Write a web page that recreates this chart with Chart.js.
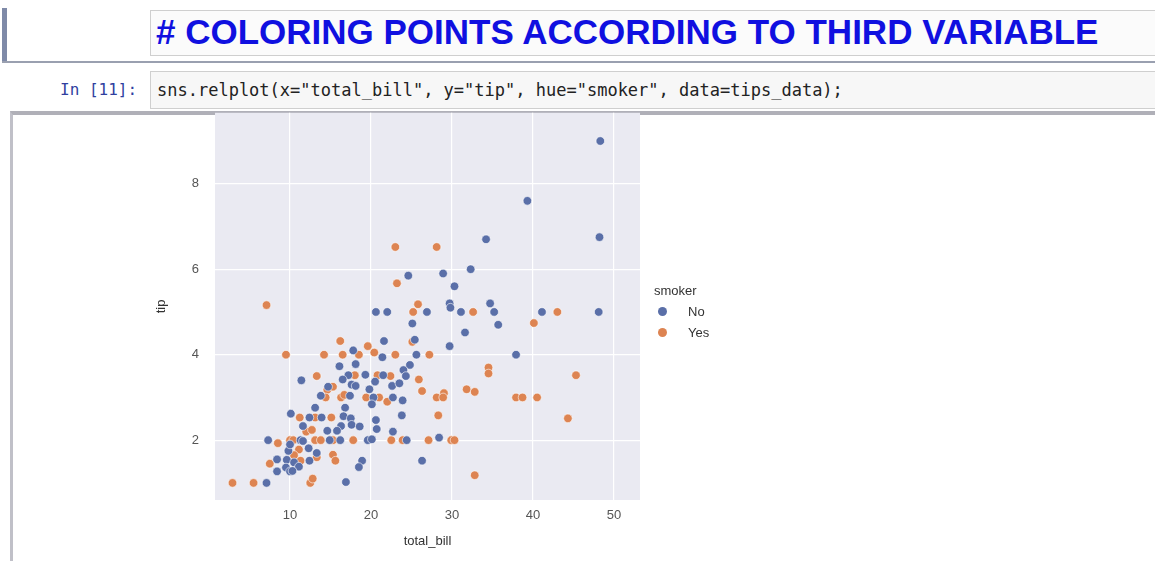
<!DOCTYPE html>
<html><head><meta charset="utf-8">
<script src="https://cdn.jsdelivr.net/npm/chart.js@4"></script>
<style>
body{margin:0;width:1155px;height:561px;background:#fff;position:relative;overflow:hidden;font-family:"Liberation Sans",Arial,sans-serif}
#lbar{position:absolute;left:2px;top:8px;width:5px;height:54px;background:#7f8aa8}
#lline{position:absolute;left:2px;top:61px;width:1153px;height:2px;background:#9aa0b0}
#md{position:absolute;left:150px;top:10px;width:1010px;height:44px;border:1px solid #cfcfcf;background:#fbfbfb}
#md h1{margin:0;position:absolute;left:5px;top:1px;font:bold 35px "Liberation Sans",Arial,sans-serif;color:#1010e0}
#prompt{position:absolute;left:60px;top:80px;font:16px "DejaVu Sans Mono",monospace;color:#303f9f}
#code{position:absolute;left:150px;top:71px;width:1010px;height:36px;border:1px solid #cfcfcf;background:#f7f7f7}
#code span{position:absolute;left:6px;top:8px;font:17px "DejaVu Sans Mono",monospace;color:#222;white-space:pre}
.s{color:#ba2121}.o{color:#aa22ff}
#out{position:absolute;left:10px;top:111px;width:1145px;height:450px;border-top:4px solid #b0b0b8;border-left:3px solid #c0c0c8}
#cv{position:absolute;left:150px;top:89px}
#leg{position:absolute;left:654px;top:283px;font:13px "Liberation Sans",Arial,sans-serif;color:#333}
#leg div{height:21px;position:relative}
.dot{position:absolute;left:4px;top:3px;width:9px;height:9px;border-radius:50%}
</style></head><body>
<div id="lbar"></div><div id="lline"></div>
<div id="md"><h1># COLORING POINTS ACCORDING TO THIRD VARIABLE</h1></div>
<div id="prompt">In [11]:</div>
<div id="code"><span>sns.relplot(x=<span class="s" style="position:static">"total_bill"</span>, y=<span class="s" style="position:static">"tip"</span>, hue=<span class="s" style="position:static">"smoker"</span>, data<span class="o" style="position:static">=</span>tips_data);</span></div>
<div id="out"></div>
<canvas id="cv" width="570" height="464" style="width:570px;height:464px"></canvas>
<div id="leg"><div>smoker</div><div><span class="dot" style="background:#5a6fa8"></span><span style="position:absolute;left:34px">No</span></div><div><span class="dot" style="background:#dd8452"></span><span style="position:absolute;left:34px">Yes</span></div></div>
<script>
const noX=[48.3,39.3,48.2,34.2,32.3,28.9,24.6,30.3,29.7,29.8,34.7,35.2,31.1,26.9,41.1,48.1,20.6,22.0,25.1,35.7,31.6,21.6,25.4,29.7,37.9,25.6,21.4,17.8,18.1,16.1,24.8,24.0,24.3,19.3,17.2,16.5,21.5,20.5,11.4,14.7,17.6,18.1,19.8,22.6,23.5,13.8,20.3,22.7,23.9,17.4,20.1,13.1,16.8,10.1,12.4,13.9,16.6,17.5,23.8,20.6,11.6,16.3,17.6,18.6,20.7,14.6,15.8,22.7,7.3,11.3,14.9,16.2,19.6,20.1,24.4,28.4,12.3,9.8,13.3,8.4,9.6,10.5,12.4,18.9,26.3,11.1,9.5,18.5,8.4,10.0,10.3,7.1,16.9,10.0,11.6];
const noY=[9.0,7.6,6.75,6.7,6.0,5.9,5.85,5.6,5.2,5.1,5.2,5.0,5.0,5.0,5.0,5.0,5.0,5.0,4.73,4.7,4.52,4.32,4.35,4.2,4.0,4.0,3.94,4.1,3.78,3.73,3.76,3.64,3.5,3.53,3.52,3.42,3.52,3.37,3.4,3.25,3.3,3.27,3.19,3.27,3.33,3.04,3.0,3.0,2.93,3.04,2.84,2.76,2.76,2.62,2.53,2.53,2.56,2.51,2.58,2.47,2.33,2.33,2.36,2.32,2.26,2.22,2.22,2.2,2.0,2.0,2.0,2.0,2.0,2.02,2.0,2.06,1.81,1.75,1.7,1.55,1.54,1.48,1.52,1.52,1.52,1.38,1.36,1.37,1.27,1.27,1.28,1.0,1.02,1.9,1.98];
const yesX=[23.0,28.1,23.2,7.1,25.8,25.2,32.6,43.0,40.1,16.2,19.6,9.5,14.2,16.5,18.5,20.4,23.0,27.2,25.1,34.5,34.5,45.3,13.3,18.0,20.8,22.4,25.9,14.6,15.3,26.3,31.8,32.8,29.0,14.4,16.3,16.7,19.4,21.0,28.1,28.9,37.9,38.7,40.5,22.0,28.3,44.3,11.2,13.1,15.1,12.0,12.7,8.5,10.0,10.4,13.1,13.8,15.3,17.8,22.5,23.9,27.1,29.9,30.3,11.1,10.5,15.3,15.6,11.3,13.3,7.5,32.8,2.9,5.5,12.5,12.8];
const yesY=[6.52,6.52,5.67,5.16,5.18,5.0,5.0,5.0,4.74,4.32,4.2,4.0,4.0,4.0,4.0,4.05,4.0,4.0,4.3,3.7,3.56,3.52,3.5,3.52,3.52,3.5,3.42,3.18,3.25,3.15,3.19,3.13,3.1,3.0,3.0,3.06,3.0,3.0,3.0,3.0,3.0,3.0,3.0,2.9,2.58,2.51,2.53,2.53,2.53,2.2,2.24,1.93,2.0,2.0,2.0,2.0,2.0,2.0,2.0,2.0,2.0,2.0,2.0,1.78,1.65,1.66,1.52,1.52,1.6,1.45,1.18,1.0,1.0,1.0,1.1];
const xTicks=[10,20,30,40,50];
const yTicks=[2,4,6,8];
const pts=(xs,ys)=>xs.map((x,i)=>({x,y:ys[i]}));
const bg={id:'bg',beforeDraw(c){const a=c.chartArea,ctx=c.ctx;ctx.save();ctx.fillStyle='#eaeaf2';ctx.fillRect(a.left,a.top,a.right-a.left,a.bottom-a.top);ctx.restore();}};
new Chart(document.getElementById('cv'),{type:'scatter',
data:{datasets:[
{label:'No',data:pts(noX,noY),backgroundColor:'#5a6fa8',borderColor:'#ffffff',borderWidth:0.6,pointRadius:4.3},
{label:'Yes',data:pts(yesX,yesY),backgroundColor:'#dd8452',borderColor:'#ffffff',borderWidth:0.6,pointRadius:4.3}]},
options:{responsive:false,animation:false,layout:{padding:{top:7,right:80,left:0,bottom:0}},
plugins:{legend:{display:false},tooltip:{enabled:false}},
scales:{
x:{type:'linear',min:0.74,max:53.2,afterBuildTicks(a){a.ticks=xTicks.map(v=>({value:v}));},afterFit(a){a.height=53;},
grid:{color:'#ffffff',lineWidth:1.2,drawTicks:false},border:{display:false},
ticks:{color:'#555',font:{family:'Liberation Sans',size:13},padding:8},
title:{display:true,text:'total_bill',color:'#333',font:{family:'Liberation Sans',size:13},padding:{top:2}}},
y:{type:'linear',min:0.6,max:9.66,afterBuildTicks(a){a.ticks=yTicks.map(v=>({value:v}));},afterFit(a){a.width=65;},
grid:{color:'#ffffff',lineWidth:1.2,drawTicks:false},border:{display:false},
ticks:{color:'#555',font:{family:'Liberation Sans',size:13},padding:16},
title:{display:true,text:'tip',color:'#333',font:{family:'Liberation Sans',size:13},padding:{bottom:2}}}}},
plugins:[bg]});
</script></body></html>
